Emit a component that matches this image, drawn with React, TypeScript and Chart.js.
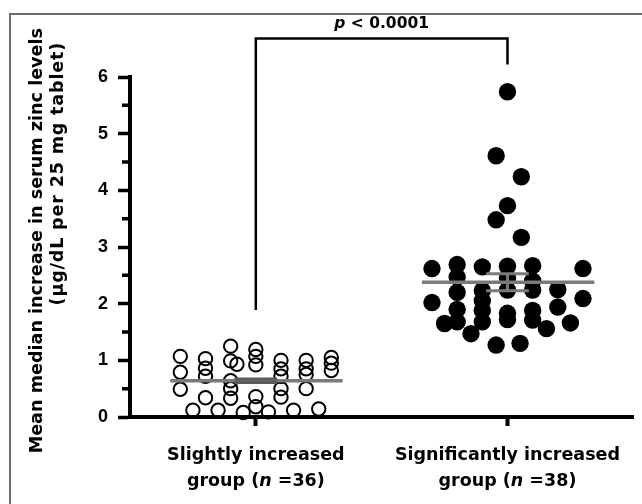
import React, { useEffect, useRef } from 'react';
import { Chart, registerables } from 'chart.js';
Chart.register(...registerables);

// ---- data ----
const categoryNames = ['Slightly increased', 'Significantly increased'];
const groupSizes = [36, 38];
const yTitleLines = ['Mean median increase in serum zinc levels', '(µg/dL per 25 mg tablet)'];
const pValueText = '< 0.0001';
const yTickValues = [0, 1, 2, 3, 4, 5, 6];

const slightX = [0.75, 0.85, 0.95, 1.05, 1.15, 1.25, 0.7, 0.7, 0.7, 0.8, 0.8, 0.8, 0.8, 0.9, 0.9, 0.9, 0.9, 0.9, 0.925, 1.0, 1.0, 1.0, 1.0, 1.0, 1.1, 1.1, 1.1, 1.1, 1.1, 1.2, 1.2, 1.2, 1.2, 1.3, 1.3, 1.3];
const slightY = [0.12, 0.12, 0.08, 0.09, 0.12, 0.14, 1.07, 0.79, 0.49, 1.03, 0.86, 0.72, 0.34, 1.25, 0.99, 0.64, 0.5, 0.33, 0.93, 1.19, 1.07, 0.92, 0.36, 0.18, 1.0, 0.85, 0.72, 0.5, 0.35, 1.0, 0.85, 0.75, 0.5, 1.05, 0.95, 0.82];

const sigX = [2.0, 1.955, 2.055, 2.0, 1.955, 2.055, 1.7, 1.8, 1.9, 2.0, 2.1, 2.3, 1.7, 1.8, 1.8, 1.8, 1.8, 1.75, 1.855, 1.9, 1.9, 1.9, 1.9, 1.955, 2.0, 2.0, 2.0, 2.0, 2.05, 2.1, 2.1, 2.1, 2.1, 2.155, 2.2, 2.2, 2.25, 2.3];
const sigY = [5.74, 4.61, 4.24, 3.73, 3.48, 3.17, 2.62, 2.69, 2.65, 2.66, 2.67, 2.62, 2.02, 2.47, 2.2, 1.9, 1.68, 1.65, 1.47, 2.23, 2.05, 1.88, 1.68, 1.27, 2.45, 2.24, 1.83, 1.72, 1.3, 2.4, 2.24, 1.88, 1.71, 1.56, 2.25, 1.94, 1.66, 2.09];

const groupMeans = [0.64, 2.38];
const groupSEM = [0.03, 0.15];

// bracket (in data units)
const bracketTop = 6.68;
const bracketLeftEnd = 1.89;
const bracketRightEnd = 6.22;
const pTextValue = 6.93;

const NUM_FONT = "'Liberation Sans', Arial, sans-serif";
const TXT_FONT = "'DejaVu Sans', 'Liberation Sans', sans-serif";

type Seg = { t: string; i?: boolean };

function drawSegs(ctx: CanvasRenderingContext2D, segs: Seg[], cx: number, cy: number, size: number) {
  ctx.save();
  ctx.textBaseline = 'middle';
  ctx.textAlign = 'left';
  const widths = segs.map((s) => {
    ctx.font = `${s.i ? 'italic ' : ''}bold ${size}px ${TXT_FONT}`;
    return ctx.measureText(s.t).width;
  });
  const total = widths.reduce((a, b) => a + b, 0);
  let x = cx - total / 2;
  segs.forEach((s, k) => {
    ctx.font = `${s.i ? 'italic ' : ''}bold ${size}px ${TXT_FONT}`;
    ctx.fillText(s.t, x, cy);
    x += widths[k];
  });
  ctx.restore();
}

const overlay = {
  id: 'overlay',
  afterDatasetsDraw(chart: any) {
    const { ctx, scales } = chart;
    const x = scales.x;
    const y = scales.y;
    ctx.save();
    ctx.lineCap = 'butt';
    groupMeans.forEach((m, i) => {
      const c = i + 1;
      const se = groupSEM[i];
      ctx.strokeStyle = '#7a7a7a';
      ctx.lineWidth = 3.5;
      ctx.beginPath();
      ctx.moveTo(x.getPixelForValue(c - 0.34), y.getPixelForValue(m));
      ctx.lineTo(x.getPixelForValue(c + 0.345), y.getPixelForValue(m));
      ctx.stroke();
      ctx.strokeStyle = i === 0 ? '#5a5a5a' : '#7a7a7a';
      ctx.lineWidth = 3;
      ctx.beginPath();
      ctx.moveTo(x.getPixelForValue(c), y.getPixelForValue(m - se));
      ctx.lineTo(x.getPixelForValue(c), y.getPixelForValue(m + se));
      [m - se, m + se].forEach((v) => {
        ctx.moveTo(x.getPixelForValue(c - 0.085), y.getPixelForValue(v));
        ctx.lineTo(x.getPixelForValue(c + 0.085), y.getPixelForValue(v));
      });
      ctx.stroke();
    });
    ctx.restore();
  },
  afterDraw(chart: any) {
    const { ctx, scales, chartArea } = chart;
    const x = scales.x;
    const y = scales.y;
    ctx.save();
    // minor ticks on y
    ctx.strokeStyle = '#000';
    ctx.lineWidth = 3.5;
    ctx.beginPath();
    for (let k = 0; k < yTickValues.length - 1; k++) {
      const v = (yTickValues[k] + yTickValues[k + 1]) / 2;
      const py = y.getPixelForValue(v);
      ctx.moveTo(chartArea.left - 8, py);
      ctx.lineTo(chartArea.left, py);
    }
    ctx.stroke();

    // bracket
    ctx.lineWidth = 2.5;
    ctx.lineJoin = 'miter';
    ctx.beginPath();
    ctx.moveTo(x.getPixelForValue(1), y.getPixelForValue(bracketLeftEnd));
    ctx.lineTo(x.getPixelForValue(1), y.getPixelForValue(bracketTop));
    ctx.lineTo(x.getPixelForValue(2), y.getPixelForValue(bracketTop));
    ctx.lineTo(x.getPixelForValue(2), y.getPixelForValue(bracketRightEnd));
    ctx.stroke();

    ctx.fillStyle = '#000';
    drawSegs(ctx, [{ t: 'p', i: true }, { t: ' ' + pValueText }], (x.getPixelForValue(1) + x.getPixelForValue(2)) / 2, y.getPixelForValue(pTextValue), 15.5);

    // x category labels
    const base = y.getPixelForValue(0);
    categoryNames.forEach((name, i) => {
      const cx = x.getPixelForValue(i + 1);
      drawSegs(ctx, [{ t: name }], cx, base + 38, 17.5);
      drawSegs(ctx, [{ t: 'group (' }, { t: 'n', i: true }, { t: ' =' + groupSizes[i] + ')' }], cx, base + 64, 17.5);
    });

    // y title
    ctx.font = `bold 17.6px ${TXT_FONT}`;
    ctx.textAlign = 'right';
    ctx.textBaseline = 'middle';
    const anchors = [
      { cx: 37, top: 28, ls: 0 },
      { cx: 58, top: 42, ls: 0.8 },
    ];
    yTitleLines.forEach((t, k) => {
      ctx.save();
      (ctx as any).letterSpacing = anchors[k].ls + 'px';
      ctx.translate(anchors[k].cx, anchors[k].top);
      ctx.rotate(-Math.PI / 2);
      ctx.fillText(t, 0, 0);
      ctx.restore();
    });

    // frame
    ctx.strokeStyle = '#6e6e6e';
    ctx.lineWidth = 2;
    ctx.beginPath();
    ctx.moveTo(10, chart.height);
    ctx.lineTo(10, 14);
    ctx.lineTo(chart.width, 14);
    ctx.stroke();
    ctx.restore();
  },
};

export default function App() {
  const ref = useRef<HTMLCanvasElement>(null);
  useEffect(() => {
    const chart = new Chart(ref.current as HTMLCanvasElement, {
      type: 'scatter',
      data: {
        datasets: [
          {
            label: categoryNames[0],
            data: slightX.map((v, i) => ({ x: v, y: slightY[i] })),
            pointRadius: 6.7,
            pointBorderWidth: 2,
            pointBorderColor: '#000',
            pointBackgroundColor: 'rgba(0,0,0,0)',
            clip: false as any,
          },
          {
            label: categoryNames[1],
            data: sigX.map((v, i) => ({ x: v, y: sigY[i] })),
            pointRadius: 8.7,
            pointBorderWidth: 0,
            pointBackgroundColor: '#000',
            clip: false as any,
          },
        ],
      },
      options: {
        animation: false,
        responsive: false,
        maintainAspectRatio: false,
        events: [],
        layout: { padding: { top: 77, right: 6, left: 0, bottom: 0 } },
        plugins: { legend: { display: false }, tooltip: { enabled: false } },
        scales: {
          x: {
            type: 'linear',
            min: 0.5,
            max: 2.5,
            afterBuildTicks: (s: any) => {
              s.ticks = [{ value: 1 }, { value: 2 }];
            },
            afterFit: (s: any) => {
              s.height = 87;
            },
            ticks: { callback: () => '' },
            grid: { drawOnChartArea: false, drawTicks: true, tickLength: 9, tickWidth: 4, tickColor: '#000' },
            border: { display: true, color: '#000', width: 4 },
          },
          y: {
            min: 0,
            max: 6,
            afterBuildTicks: (s: any) => {
              s.ticks = yTickValues.map((v) => ({ value: v }));
            },
            afterFit: (s: any) => {
              s.width = 130;
            },
            ticks: {
              color: '#000',
              padding: 10,
              font: { family: NUM_FONT, weight: 'bold', size: 18 },
            },
            grid: { drawOnChartArea: false, drawTicks: true, tickLength: 12, tickWidth: 3.5, tickColor: '#000' },
            border: { display: true, color: '#000', width: 4 },
          },
        },
      },
      plugins: [overlay],
    });
    return () => chart.destroy();
  }, []);
  return (
    <div style={{ position: 'fixed', left: 0, top: 0, width: 642, height: 504, background: '#fff' }}>
      <canvas ref={ref} width={642} height={504} style={{ display: 'block' }} />
    </div>
  );
}
